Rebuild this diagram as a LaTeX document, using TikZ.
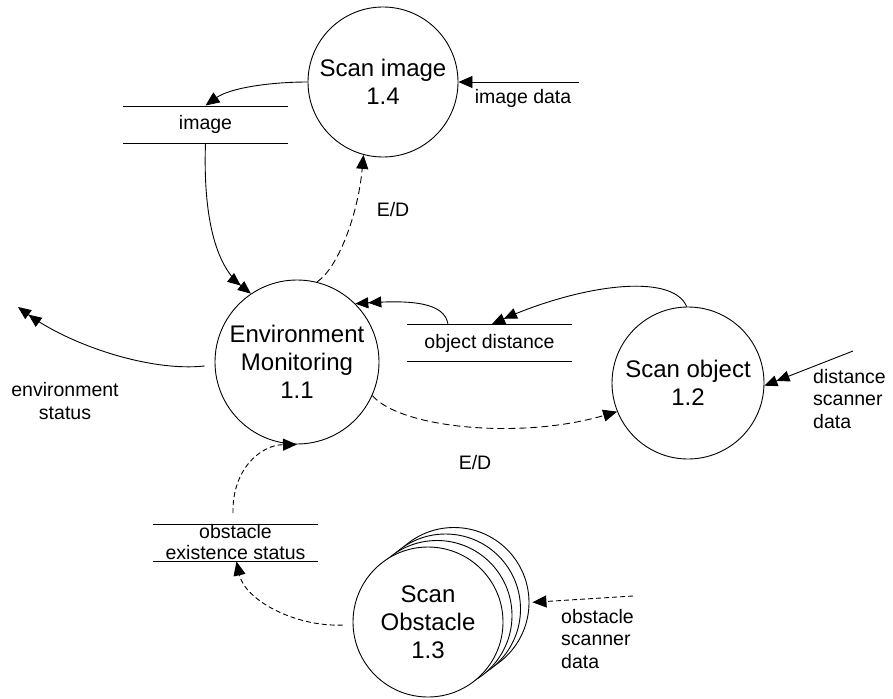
\documentclass[tikz,border=0pt]{standalone}
\usepackage{fontspec}
\setmainfont{Liberation Sans}
\usetikzlibrary{arrows.meta,calc}
\tikzset{
  proc/.style={circle, draw, line width=0.9pt, fill=white, inner sep=0pt, align=center,
    font=\fontsize{24}{28}\selectfont},
  store/.style={inner sep=0pt, align=center, font=\fontsize{19.5}{21}\selectfont},
  lbl/.style={inner sep=0pt, align=left, font=\fontsize{19.5}{22.5}\selectfont},
  storeline/.style={line width=0.9pt},
  flow/.style={line width=0.9pt, -{Triangle[length=14pt,width=12pt]}},
  flowtwo/.style={line width=0.9pt, -{Triangle[length=13pt,width=11pt]Triangle[length=13pt,width=11pt]}},
  ctl/.style={dash pattern=on 7pt off 4pt},
  ctlshort/.style={dash pattern=on 5pt off 3pt},
}
\begin{document}
\begin{tikzpicture}[x=1pt,y=-1pt]
\fill[white] (0,0) rectangle (893,698);
\useasboundingbox (0,0) rectangle (893,698);

% processes
\node[proc, minimum size=150pt] (p14) at (383,82) {Scan image\\1.4};
\node[proc, minimum size=164pt] (p11) at (297,362) {Environment\\Monitoring\\1.1};
\node[proc, minimum size=152pt] (p12) at (688,383) {Scan object\\1.2};
% multiple-instance process: stacked circles
\node[proc, minimum size=150pt] (p13a) at (454,602.5) {};
\node[proc, minimum size=150pt] (p13b) at (445.5,609) {};
\node[proc, minimum size=150pt] (p13c) at (437,615.5) {};
\node[proc, minimum size=150pt] (p13) at (428,622) {Scan\\Obstacle\\1.3};

% data stores
\node[store] (imgstore) at (205.5,124.5) {image};
\node[store] (objstore) at (489.5,343) {object distance};
\node[store] (obsstore) at (235.5,542.5) {obstacle\\existence status};
\foreach \s in {imgstore,objstore,obsstore}{
  \draw[storeline] ($(\s.center)+(-82.5,-18.5)$) -- ++(165,0);
  \draw[storeline] ($(\s.center)+(-82.5,18.5)$) -- ++(165,0);
}

% external ends
\coordinate (imgdata) at (579,82);
\coordinate (dsd) at (853,351);
\coordinate (osd) at (633,596);
\coordinate (envout) at (18,307);

% flows
\draw[flow] (p14.west) .. controls (270,82) and (230,88) .. ($(imgstore.center)+(0,-19)$);
\draw[flow] (imgdata) -- (p14.east);
\node[lbl] at (523,98) {image data};

\draw[flow, ctl] (p11.76) .. controls (338,268) and (358,215) .. (p14.255);
\node[lbl] at (393,210) {E/D};

\draw[flowtwo] ($(imgstore.center)+(0,18.5)$) .. controls (203,215) and (215,265) .. (p11.124);

\draw[flowtwo] ($(objstore.center)+(-41.5,-18.5)$) .. controls (445,302) and (410,300) .. (p11.45);
\draw[flowtwo] (p12.91) .. controls (672,272) and (580,285) .. ($(objstore.center)+(2.5,-19)$);

\draw[flowtwo] (dsd) -- (p12.358);
\node[lbl, anchor=west] at (813,399) {distance\\scanner\\data};

\draw[flow, ctl] (p11.336) .. controls (400,428) and (520,440) .. (p12.202);
\node[lbl] at (475,463) {E/D};

\draw[flowtwo, shorten <=10pt] (p11.182) .. controls (150,372) and (70,345) .. (envout);
\node[lbl, align=center] at (65,401) {environment\\status};

\draw[flow, ctlshort] ($(obsstore.center)+(-2.5,-29.5)$) .. controls (232,470) and (260,445) .. (p11.south);
\draw[flow, ctlshort, shorten <=10pt] (p13.182) .. controls (295,627) and (245,600) .. ($(obsstore.center)+(1,19)$);

\draw[flow, ctlshort, shorten >=3pt] (osd) -- (p13a.east);
\node[lbl, anchor=west] at (561,639) {obstacle\\scanner\\data};
\end{tikzpicture}
\end{document}
